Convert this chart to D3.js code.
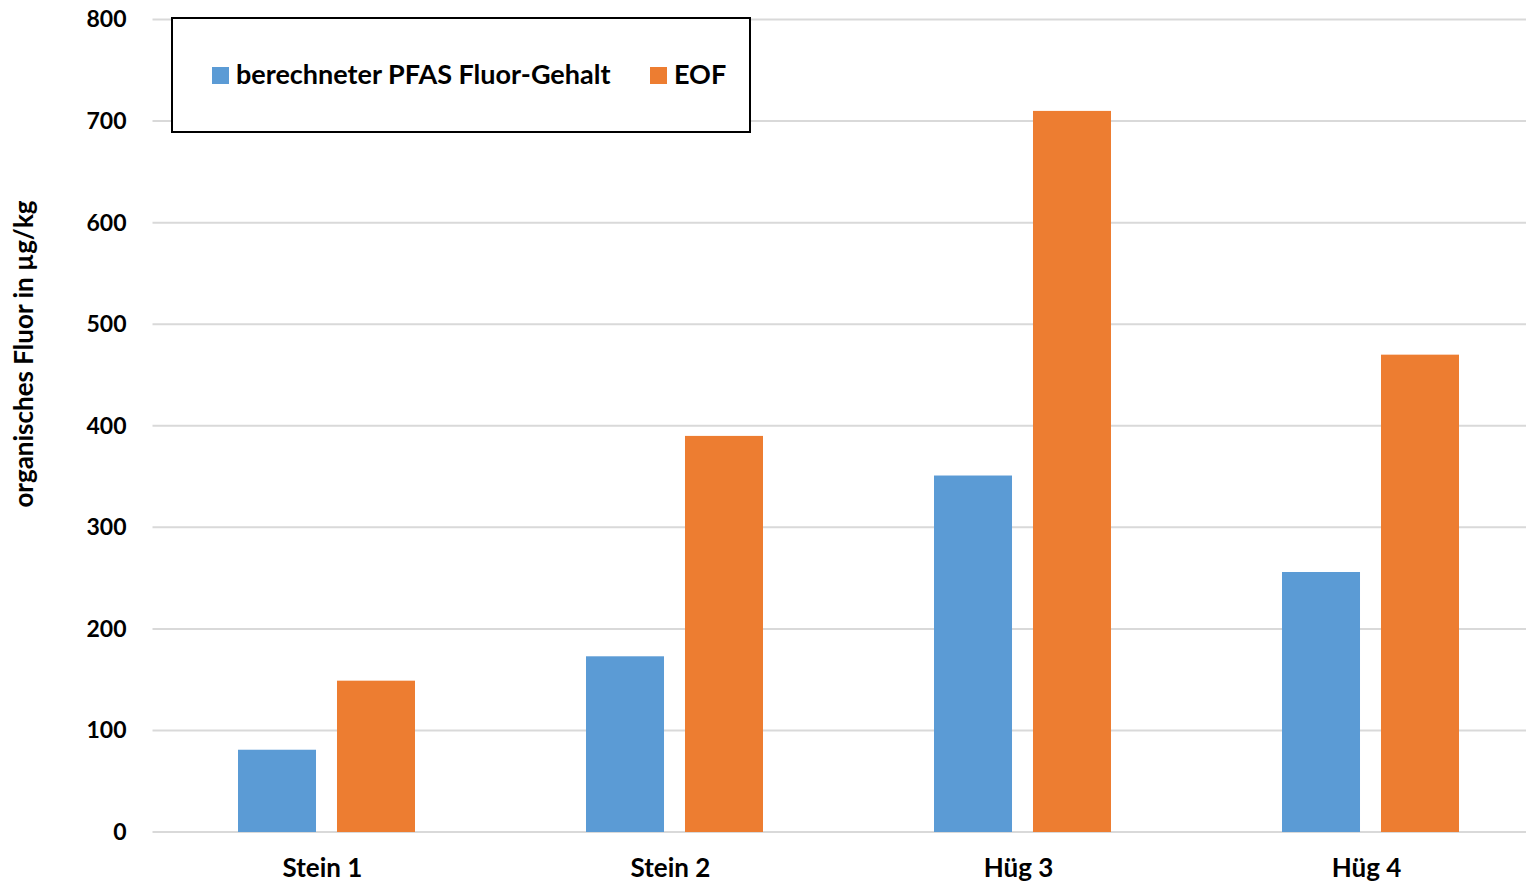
<!DOCTYPE html>
<html><head><meta charset="utf-8">
<script src="https://cdn.jsdelivr.net/npm/d3@7"></script>
<style>body{margin:0;background:#fff}svg{display:block}text{font-family:Lato,"Open Sans",sans-serif;font-weight:bold;fill:#000}</style>
</head><body><svg id="c" width="1526" height="884"></svg>
<script>
const categories = ["Stein 1", "Stein 2", "Hüg 3", "Hüg 4"];
const seriesNames = ["berechneter PFAS Fluor-Gehalt", "EOF"];
const pfasValues = [81, 173, 351, 256];
const eofValues = [149, 390, 710, 470];
const yTicks = [0, 100, 200, 300, 400, 500, 600, 700, 800];
const colors = ["#5b9bd5", "#ed7d31"];
const yTitle = "organisches Fluor in µg/kg";

(function () {
const svg = d3.select("#c");
const pL = 152.5, pR = 1544.5, pT = 19.5, pB = 832, gridEnd = 1526;
const x0 = d3.scaleBand().domain(categories).range([pL, pR]).padding(0);
const y = d3.scaleLinear().domain([0, 800]).range([pB, pT]);
const bw = x0.bandwidth();
const groupW = bw * 0.5086;
const x1 = d3.scaleBand().domain([0, 1]).range([(bw - groupW) / 2, (bw + groupW) / 2]).paddingInner(0.212).paddingOuter(0);

svg.append("g").selectAll("line").data(yTicks).join("line")
  .attr("x1", pL).attr("x2", gridEnd)
  .attr("y1", d => y(d)).attr("y2", d => y(d))
  .attr("stroke", "#d9d9d9").attr("stroke-width", 2);

const yAxis = svg.append("g").attr("transform", `translate(${pL},0)`)
  .call(d3.axisLeft(y).tickValues(yTicks).tickSize(0).tickPadding(26));
yAxis.select(".domain").remove();
yAxis.selectAll("text").style("font-size", "23px").style("font-family", "Lato").style("font-weight", "bold").attr("fill", "#000");

const data = categories.map((c, i) => ({c, vals: [pfasValues[i], eofValues[i]]}));
const g = svg.append("g").selectAll("g").data(data).join("g")
  .attr("transform", d => `translate(${x0(d.c)},0)`);
g.selectAll("rect").data(d => d.vals.map((v, k) => ({v, k}))).join("rect")
  .attr("x", d => x1(d.k)).attr("width", x1.bandwidth())
  .attr("y", d => y(d.v)).attr("height", d => y(0) - y(d.v))
  .attr("fill", d => colors[d.k]);

const xAxis = svg.append("g").attr("transform", `translate(-4,${pB})`)
  .call(d3.axisBottom(x0).tickSize(0));
xAxis.select(".domain").remove();
xAxis.selectAll("text").attr("dy", null).attr("y", 45)
  .style("font-size", "26px").style("font-family", "Lato").style("font-weight", "bold").attr("fill", "#000");

svg.append("text").attr("transform", "translate(33,354) rotate(-90)")
  .attr("text-anchor", "middle").style("font-size", "26px").text(yTitle);

svg.append("rect").attr("x", 172).attr("y", 18).attr("width", 578).attr("height", 114)
  .attr("fill", "#fff").attr("stroke", "#000").attr("stroke-width", 2);
const legX = [212, 650];
seriesNames.forEach((n, i) => {
  svg.append("rect").attr("x", legX[i]).attr("y", 67).attr("width", 17).attr("height", 17).attr("fill", colors[i]);
  svg.append("text").attr("x", legX[i] + 24).attr("y", 84).style("font-size", "27px").text(n);
});
})();
</script></body></html>
